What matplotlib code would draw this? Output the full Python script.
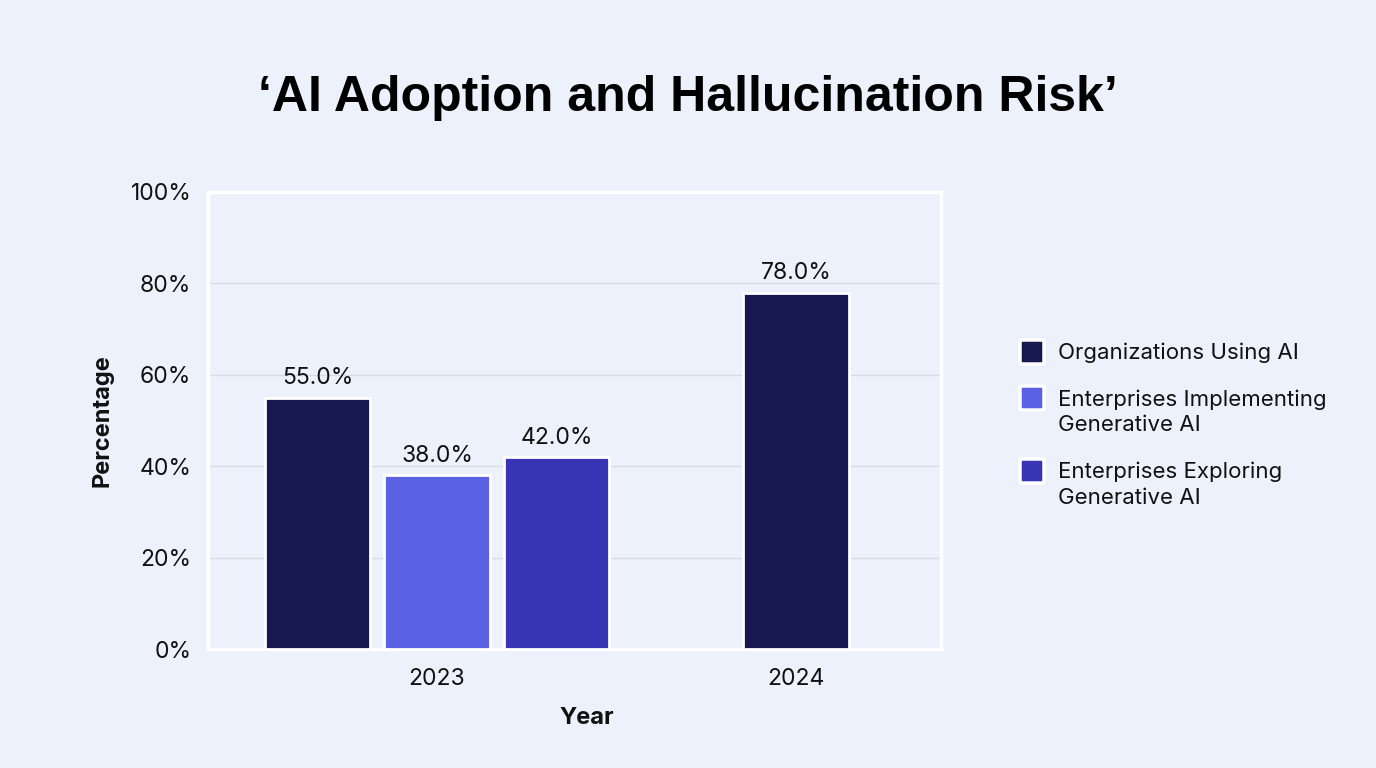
import matplotlib.pyplot as plt
from matplotlib.patches import FancyBboxPatch
from matplotlib.ticker import PercentFormatter

# data
years = ["2023", "2024"]
series = ["Organizations Using AI", "Enterprises Implementing\nGenerative AI", "Enterprises Exploring\nGenerative AI"]
colors = ["#16184F", "#5B61E3", "#3834B3"]
# values per year, None where a series has no value
values_2023 = [55.0, 38.0, 42.0]
values_2024 = [78.0, None, None]
year_values = [values_2023, values_2024]

bg = "#EDF1FB"
plt.rcParams["font.family"] = ["Inter", "DejaVu Sans"]

fig = plt.figure(figsize=(13.76, 7.68), dpi=100, facecolor=bg)
ax = fig.add_axes([208 / 1376, 1 - 649 / 768, 733 / 1376, 457 / 768])
ax.set_facecolor(bg)

bar_w = 0.295
step = 0.333
for xi, vals in enumerate(year_values):
    present = [(i, v) for i, v in enumerate(vals) if v is not None]
    n = len(present)
    for k, (i, v) in enumerate(present):
        x = xi + (k - (n - 1) / 2) * step
        ax.bar(x, v, width=bar_w, color=colors[i], edgecolor="white",
               linewidth=2, zorder=3)
        ax.annotate(f"{v:.1f}%", (x, v), xytext=(0, 6), textcoords="offset points",
                    ha="center", va="bottom", fontsize=16.5, color="#111111")

ax.set_xlim(-0.638, 1.404)
ax.set_ylim(0, 100)
ax.set_xticks(range(len(years)))
ax.set_xticklabels(years)
ax.set_yticks(range(0, 101, 20))
ax.yaxis.set_major_formatter(PercentFormatter(decimals=0))
ax.tick_params(axis="both", length=0, labelsize=16.5, colors="#111111")
ax.tick_params(axis="x", pad=14)
ax.tick_params(axis="y", pad=12)
ax.grid(axis="y", color="#D8DCE6", linewidth=1, zorder=0)
for s in ax.spines.values():
    s.set_color("white")
    s.set_linewidth(2.5)

ax.set_xlabel("Year", fontsize=17, fontweight="bold", color="#111111")
ax.xaxis.set_label_coords((587 - 208) / 733, -(707 - 649) / 457)
ax.set_ylabel("Percentage", fontsize=17, fontweight="bold", labelpad=12, color="#111111")

fig.text(0.5, 1 - 98 / 768, "\u2018AI Adoption and Hallucination Risk\u2019",
         ha="center", va="center", fontsize=36, fontweight="bold",
         family=["Liberation Sans", "DejaVu Sans"], color="#000000")

# legend, square aligned with the first text line
legend_y = [352, 398, 471]
for name, color, ly in zip(series, colors, legend_y):
    sq = 24
    fig.add_artist(FancyBboxPatch((1020 / 1376, 1 - (ly + sq / 2) / 768), sq / 1376, sq / 768,
                                  boxstyle="round,pad=0,rounding_size=0.002",
                                  transform=fig.transFigure, facecolor=color,
                                  edgecolor="white", linewidth=2.5))
    fig.text(1058 / 1376, 1 - (ly - 9) / 768, name, ha="left", va="top",
             fontsize=16, color="#111111", linespacing=1.35)

fig.savefig("out.png", dpi=100, facecolor=bg)
